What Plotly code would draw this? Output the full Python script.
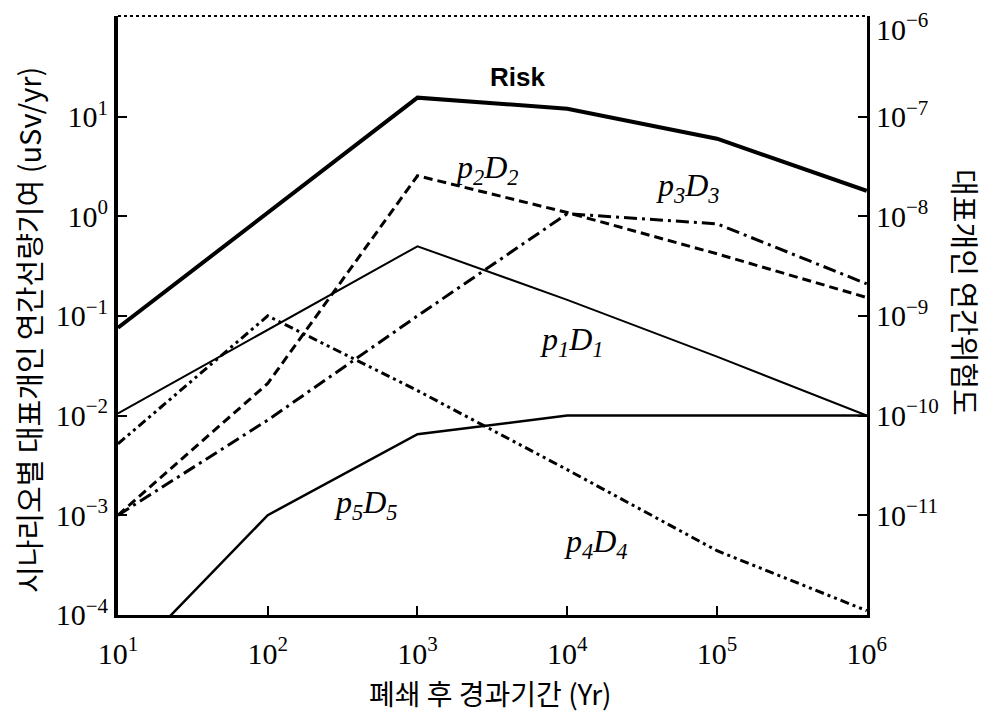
import math
import plotly.graph_objects as go

# ---- data ----
risk_x = [10, 1000, 1e4, 1e5, 1e6]
risk_y = [0.076, 15.5, 12.0, 6.0, 1.8]

p1_x = [10, 1000, 1e4, 1e5, 1e6]
p1_y = [0.0105, 0.5, 0.145, 0.039, 0.01]

p2_x = [10, 100, 1000, 1e4, 1e5, 1e6]
p2_y = [0.001, 0.021, 2.55, 1.09, 0.42, 0.153]

p3_x = [10, 100, 1000, 1e4, 1e5, 1e6]
p3_y = [0.001, 0.009, 0.1, 1.06, 0.84, 0.21]

p4_x = [10, 100, 1000, 1e4, 1e5, 1e6]
p4_y = [0.0052, 0.1, 0.0178, 0.00286, 0.00044, 0.00011]

p5_x = [10, 100, 1000, 1e4, 1e5, 1e6]
p5_y = [2.8e-5, 0.001, 0.0065, 0.01, 0.01, 0.01]

x_tick_vals = [10, 100, 1000, 1e4, 1e5, 1e6]
x_tick_text = ["10<sup>1</sup>", "10<sup>2</sup>", "10<sup>3</sup>",
               "10<sup>4</sup>", "10<sup>5</sup>", "10<sup>6</sup>"]
y_tick_vals = [1e-4, 1e-3, 1e-2, 1e-1, 1, 10]
y_tick_text = ["10<sup>−4</sup>", "10<sup>−3</sup>", "10<sup>−2</sup>",
               "10<sup>−1</sup>", "10<sup>0</sup>", "10<sup>1</sup>"]
y2_tick_vals = [1e-11, 1e-10, 1e-9, 1e-8, 1e-7, 1e-6]
y2_tick_text = ["10<sup>−11</sup>", "10<sup>−10</sup>", "10<sup>−9</sup>",
                "10<sup>−8</sup>", "10<sup>−7</sup>", "10<sup>−6</sup>"]

x_title = "폐쇄 후 경과기간 (Yr)"
y_title = "시나리오별 대표개인 연간선량기여 (uSv/yr)"
y2_title = "대표개인 연간위험도"

series_labels = ["Risk",
                 "<i>p<sub>1</sub>D<sub>1</sub></i>",
                 "<i>p<sub>2</sub>D<sub>2</sub></i>",
                 "<i>p<sub>3</sub>D<sub>3</sub></i>",
                 "<i>p<sub>4</sub>D<sub>4</sub></i>",
                 "<i>p<sub>5</sub>D<sub>5</sub></i>"]

# ---- figure ----
fig = go.Figure()

def add(x, y, width, dash, name):
    fig.add_trace(go.Scatter(x=x, y=y, mode="lines", name=name,
                             line=dict(color="black", width=width, dash=dash),
                             showlegend=False))

add(risk_x, risk_y, 4, "solid", "Risk")
add(p1_x, p1_y, 2, "solid", "p1D1")
add(p2_x, p2_y, 3, "9px,5px", "p2D2")
add(p3_x, p3_y, 3, "13px,5px,3px,5px", "p3D3")
add(p4_x, p4_y, 3, "9px,4px,3px,4px,3px,4px", "p4D4")
add(p5_x, p5_y, 2.5, "solid", "p5D5")

# empty trace for the right axis
fig.add_trace(go.Scatter(x=[], y=[], yaxis="y2", showlegend=False))

tick_font = dict(family="Liberation Serif", size=30, color="black")

# top right tick label sits at the very top edge; draw it with a small downward nudge
y2_axis_text = y2_tick_text[:-1] + [""]

fig.update_layout(
    width=991, height=713,
    margin=dict(l=110, r=132, t=8, b=106, autoexpand=False),
    plot_bgcolor="white", paper_bgcolor="white",
    xaxis=dict(type="log", range=[1, 6.002], tickvals=x_tick_vals, ticktext=x_tick_text,
               ticks="inside", ticklen=9, tickwidth=2, tickcolor="black",
               showline=True, linewidth=3, linecolor="black",
               showgrid=False, zeroline=False, tickfont=tick_font,
               ticklabelstandoff=10, ticklabeloverflow="allow", automargin=False),
    yaxis=dict(type="log", range=[-4.002, 2.01], tickvals=y_tick_vals, ticktext=y_tick_text,
               ticks="inside", ticklen=9, tickwidth=2, tickcolor="black",
               showline=True, linewidth=4, linecolor="black",
               showgrid=False, zeroline=False, tickfont=tick_font,
               ticklabeloverflow="allow", automargin=False),
    yaxis2=dict(type="log", range=[-12.002, -5.99], overlaying="y", side="right",
                tickvals=y2_tick_vals, ticktext=y2_axis_text,
                ticks="inside", ticklen=9, tickwidth=2, tickcolor="black",
                showline=True, linewidth=3, linecolor="black",
                showgrid=False, zeroline=False, tickfont=tick_font,
                ticklabeloverflow="allow", automargin=False),
)

fig.add_annotation(text=y2_tick_text[-1], xref="paper", x=1, yref="y2",
                   y=math.log10(y2_tick_vals[-1]), xanchor="left", yanchor="middle",
                   xshift=7, yshift=-10, showarrow=False, font=tick_font)

# dotted top border
fig.add_shape(type="line", xref="paper", yref="paper", x0=0, x1=1, y0=1, y1=1,
              line=dict(color="black", width=2, dash="dot"))

# series labels (paper coordinates)
label_pos = [(0.533, 0.898), (0.606, 0.456), (0.493, 0.743),
             (0.761, 0.713), (0.638, 0.120), (0.331, 0.184)]
for i, (txt, (px, py)) in enumerate(zip(series_labels, label_pos)):
    if i == 0:
        font = dict(family="Liberation Sans", size=26, color="black", weight="bold")
    else:
        font = dict(family="Liberation Serif", size=32, color="black")
    fig.add_annotation(text=txt, x=px, y=py, xref="paper", yref="paper",
                       xanchor="center", yanchor="middle",
                       showarrow=False, font=font)

kfont = dict(family="Noto Sans CJK KR", size=29, color="black")
fig.add_annotation(text=x_title, x=0.497, y=-0.13, xref="paper", yref="paper",
                   xanchor="center", yanchor="middle", showarrow=False,
                   font=dict(family="Noto Sans CJK KR", size=28, color="black"))
fig.add_annotation(text=y_title, x=-0.12, y=0.476, xref="paper", yref="paper",
                   showarrow=False, textangle=-90, font=kfont,
                   xanchor="center", yanchor="middle")
fig.add_annotation(text=y2_title, x=1.133, y=0.538, xref="paper", yref="paper",
                   showarrow=False, textangle=90, font=kfont,
                   xanchor="center", yanchor="middle")

fig.write_html("out.html")
